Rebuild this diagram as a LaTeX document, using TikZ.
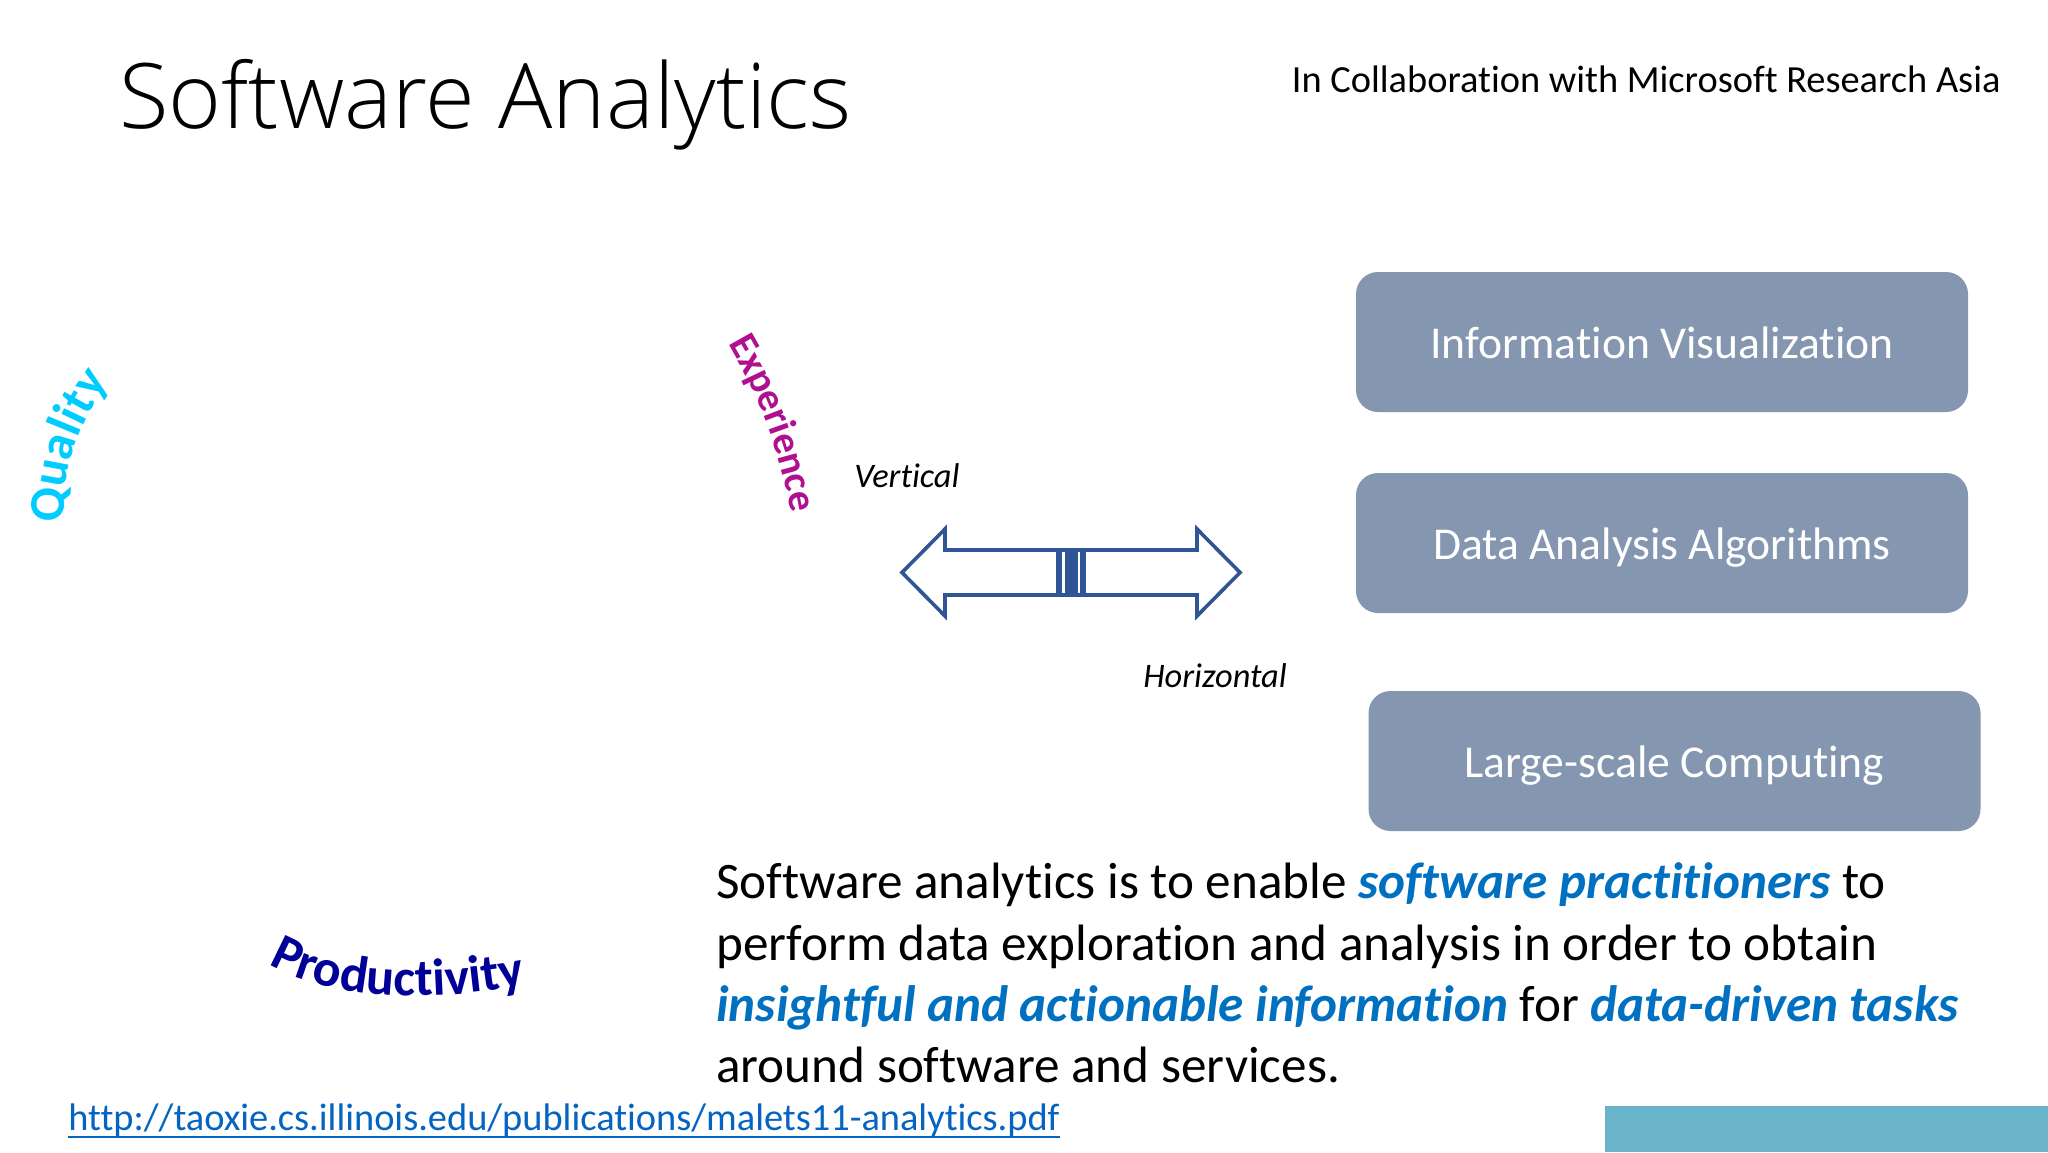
\documentclass[tikz,border=0pt]{standalone}
\usepackage{fontspec}
\usetikzlibrary{decorations.text}
\setmainfont[Ligatures=NoCommon]{Carlito}
\newfontfamily\titlefont{Open Sans Light}
\definecolor{boxfill}{HTML}{8496B0}
\definecolor{arrowblue}{HTML}{2F5597}
\definecolor{emph}{HTML}{0070C0}
\definecolor{linkblue}{HTML}{0563C1}
\definecolor{tealbar}{HTML}{6AB4C9}
\definecolor{qualityc}{HTML}{00CCFF}
\definecolor{experiencec}{HTML}{B0108F}
\definecolor{productivityc}{HTML}{000099}
\tikzset{
  x=0.5pt,y=-0.5pt,
  block/.style={draw=none,fill=boxfill,rounded corners=11pt,text=white,minimum width=306pt,minimum height=70pt,inner sep=0pt,text height=16pt,text depth=0pt,font=\fontsize{22.8}{26}\selectfont},
  side/.style={inner sep=0pt,font=\itshape\fontsize{17.2}{20}\selectfont},
  body/.style={anchor=base west,inner sep=0pt,font=\fontsize{25.58}{28}\selectfont},
}
\newcommand{\hl}[1]{\textcolor{emph}{\textbf{\textit{#1}}}}
\begin{document}
\begin{tikzpicture}
\useasboundingbox (0,0) rectangle (2048,1152);
\fill[white] (0,0) rectangle (2048,1152);
\fill[tealbar] (1605,1106) rectangle (2048,1152);
\node[anchor=base west,inner sep=0pt,font=\titlefont\fontsize{45.2}{50}\selectfont] (title) at (119,128) {Software Analytics};
\node[anchor=base east,inner sep=0pt,font=\fontsize{19.2}{22}\selectfont] (collab) at (2001,92) {In Collaboration with Microsoft Research Asia};
\node[block] (iv) at (1662,342) {Information Visualization};
\node[block] (da) at (1662,543) {Data Analysis Algorithms};
\node[block] (lc) at (1674.5,761) {Large-scale Computing};
\node[side] (vert) at (907,476) {Vertical};
\node[side] (horiz) at (1215,676) {Horizontal};
\draw[arrowblue,line width=1.8pt,line join=miter] (902,572.5) -- (945,529) -- (945,550) -- (1197,550) -- (1197,529) -- (1240,572.5) -- (1197,616) -- (1197,595) -- (945,595) -- (945,616) -- cycle;
\fill[arrowblue] (1056,550) rectangle (1062,595);
\fill[arrowblue] (1064.5,550) rectangle (1078,595);
\fill[arrowblue] (1080,550) rectangle (1086,595);
\path[postaction={decorate,decoration={text along path,text align=center,
  text={|\fontsize{25}{25}\selectfont\bfseries\color{qualityc}|Quality}}}]
  (64,530) .. controls (61,480) and (74,425) .. (114,376);
\path[postaction={decorate,decoration={text along path,text align=center,
  text={|\fontsize{20}{20}\selectfont\bfseries\color{experiencec}|Experience}}}]
  (714,320) .. controls (749,375) and (784,445) .. (795,540);
\path[postaction={decorate,decoration={text along path,text align=center,
  text={|\fontsize{26}{26}\selectfont\bfseries\color{productivityc}|Productivity}}}]
  (270,965) .. controls (330,1000) and (430,1003) .. (524,985);
\node[body] (l1) at (716,898.5) {Software analytics is to enable \hl{software practitioners} to};
\node[body] (l2) at (716,960) {perform data exploration and analysis in order to obtain};
\node[body] (l3) at (716,1021.5) {\hl{insightful and actionable information} for \hl{data-driven tasks}};
\node[body] (l4) at (716,1082) {around software and services.};
\node[anchor=base west,inner sep=0pt,text=linkblue,text depth=3.25pt,font=\fontsize{19.2}{22}\selectfont] (url) at (68,1130) {http://taoxie.cs.illinois.edu/publications/malets11-analytics.pdf};
\draw[linkblue,line width=0.9pt] (url.south west) -- (url.south east);
\end{tikzpicture}
\end{document}
